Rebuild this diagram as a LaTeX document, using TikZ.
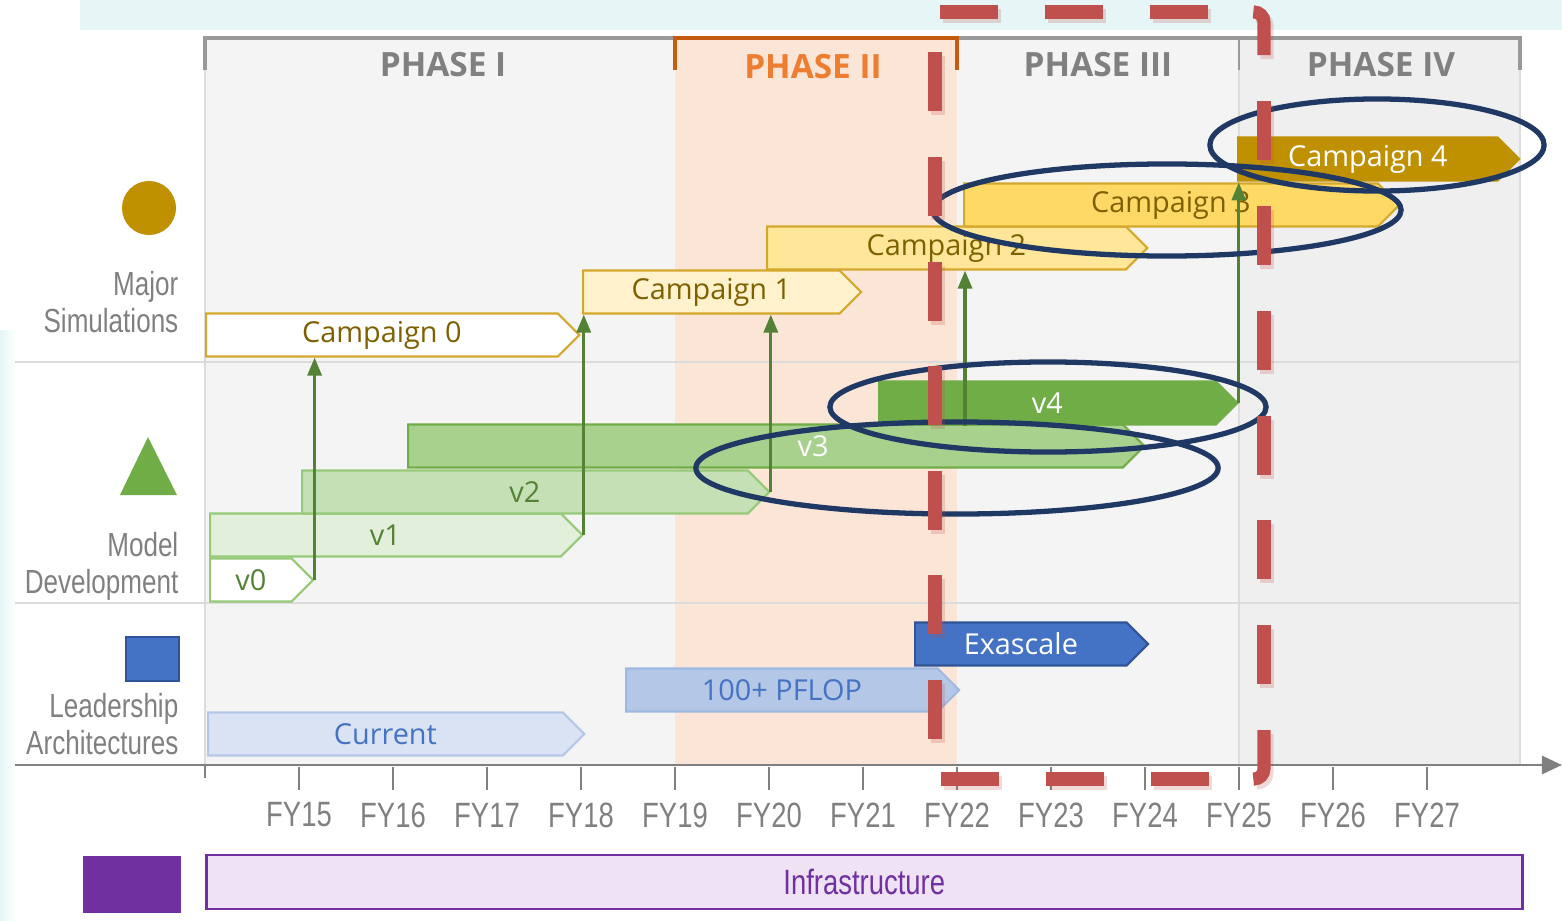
\documentclass[tikz,border=0pt]{standalone}
\usepackage{fontspec}
\setmainfont{Open Sans}
\newfontfamily\narrowfont[FakeStretch=0.78]{Liberation Sans}
\usetikzlibrary{shapes.symbols, arrows.meta}

\definecolor{bandcyan}{HTML}{E6F5F6}
\definecolor{panelgray}{HTML}{F4F4F4}
\definecolor{phasefourgray}{HTML}{EFEFEF}
\definecolor{peach}{HTML}{FBE5D6}
\definecolor{bracketorange}{HTML}{C55A11}
\definecolor{phaseorange}{HTML}{ED7D31}
\definecolor{labelgray}{HTML}{808080}
\definecolor{framegray}{HTML}{999999}
\definecolor{gridgray}{HTML}{DCDCDC}
\definecolor{gold}{HTML}{BF9000}
\definecolor{goldline}{HTML}{D4A82C}
\definecolor{goldtext}{HTML}{7F6000}
\definecolor{campone}{HTML}{FFF2CC}
\definecolor{camptwo}{HTML}{FFE699}
\definecolor{campthree}{HTML}{FFD966}
\definecolor{grnline}{HTML}{70AD47}
\definecolor{grnlight}{HTML}{95C977}
\definecolor{grndark}{HTML}{548235}
\definecolor{grnone}{HTML}{E2EFDA}
\definecolor{grntwo}{HTML}{C5E0B4}
\definecolor{grnthree}{HTML}{A9D18E}
\definecolor{grnfour}{HTML}{70AD47}
\definecolor{archblue}{HTML}{4472C4}
\definecolor{archline}{HTML}{2F5597}
\definecolor{archone}{HTML}{DAE3F3}
\definecolor{archtwo}{HTML}{B4C7E7}
\definecolor{archtwoline}{HTML}{9DB8E2}
\definecolor{infrapurple}{HTML}{7030A0}
\definecolor{infrafill}{HTML}{EFE2F5}
\definecolor{ringblue}{HTML}{1F3864}
\definecolor{dashred}{HTML}{C0504D}

\begin{document}
\begin{tikzpicture}[x=0.01cm, y=-0.01cm,
	bar/.style={signal, signal to=east, signal pointer angle=90, anchor=west,
		inner sep=0pt, minimum height=0.43cm, line width=0.6pt,
		font=\fontsize{8.2}{10}\selectfont},
	campaign/.style={bar, draw=goldline, text=goldtext},
	model/.style={bar, draw=grnline, text=grndark},
	arch/.style={bar, text=archblue},
	rowlabel/.style={anchor=east, align=right, inner sep=0pt, text=labelgray,
		font=\narrowfont\fontsize{9.5}{10.5}\selectfont},
	phaselabel/.style={text=labelgray, font=\bfseries\fontsize{9.5}{11}\selectfont},
	fylabel/.style={text=labelgray, font=\narrowfont\fontsize{10}{11}\selectfont},
	feeds/.style={grndark, line width=0.9pt, -{Triangle[width=1.4mm,length=1.8mm]}},
	ring/.style={ringblue, line width=1.5pt},
	reddash/.style={dashred, line width=3.7pt, rounded corners=0.1cm}]

	\useasboundingbox (0,0) rectangle (1562,921);

	% backdrop
	\fill[bandcyan] (80,0) rectangle (1562,30);
	\shade[left color=bandcyan, right color=white] (0,330) rectangle (16,921);

	% phases
	\fill[panelgray] (205,38) rectangle (675,765);
	\fill[peach] (675,38) rectangle (957,765);
	\fill[panelgray] (957,38) rectangle (1239,765);
	\fill[phasefourgray] (1239,38) rectangle (1520,765);
	\draw[gridgray, line width=0.5pt] (205,38) -- (205,765);
	\draw[gridgray, line width=0.5pt] (1239,38) -- (1239,765);
	\draw[gridgray, line width=0.5pt] (1520,38) -- (1520,765);
	\draw[gridgray, line width=0.7pt] (15,362) -- (1520,362);
	\draw[gridgray, line width=0.7pt] (15,603) -- (1520,603);
	\draw[framegray, line width=0.9pt] (205,70) -- (205,38) -- (1520,38) -- (1520,70);
	\draw[framegray, line width=0.6pt] (1239,38) -- (1239,70);
	\draw[bracketorange, line width=1.3pt] (675,70) -- (675,38) -- (957,38) -- (957,70);

	\node[phaselabel] (ph1) at (443,65) {PHASE I};
	\node[phaselabel, text=phaseorange] (ph2) at (813,67) {PHASE II};
	\node[phaselabel] (ph3) at (1098,65) {PHASE III};
	\node[phaselabel] (ph4) at (1381,65) {PHASE IV};

	% axis
	\draw[labelgray, line width=0.85pt, -{Triangle[width=1.8mm,length=2mm]}] (15,765) -- (1562,765);
	\draw[labelgray, line width=0.6pt] (205,765) -- (205,778);
	\foreach \yr [count=\i] in {15,...,27} {
		\draw[labelgray, line width=0.6pt] (205+94*\i,767) -- (205+94*\i,790);
		\node[fylabel] (fy\yr) at (205+94*\i,815) {FY\yr};
	}

	% row icons and labels
	\node[circle, fill=gold, inner sep=0pt, minimum size=0.54cm] (simicon) at (149,208) {};
	\fill[grnfour] (120,495) -- (148,437) -- (177,495) -- cycle;
	\node[draw=archline, fill=archblue, line width=0.6pt, inner sep=0pt, anchor=north west,
		minimum width=0.53cm, minimum height=0.44cm] (archicon) at (125,636) {};
	\node[fill=infrapurple, inner sep=0pt, anchor=north west,
		minimum width=0.98cm, minimum height=0.57cm] (infraicon) at (82,855) {};
	\node[rowlabel] (simlabel) at (179,302) {Major\\Simulations};
	\node[rowlabel] (modlabel) at (179,566) {Model\\Development};
	\node[rowlabel] (archlabel) at (179,724) {Leadership\\Architectures};

	% major simulations
	\node[campaign, fill=white, minimum width=3.73cm] (c0) at (205,335) {Campaign 0};
	\node[campaign, fill=campone, minimum width=2.78cm] (c1) at (582,292) {Campaign 1};
	\node[campaign, fill=camptwo, minimum width=3.80cm] (c2) at (766,248) {Campaign 2};
	\node[campaign, fill=campthree, minimum width=4.35cm] (c3) at (963,205) {Campaign 3};
	\node[campaign, fill=gold, draw=gold, text=white, minimum width=2.81cm] (c4) at (1237,159) {Campaign 4};

	% model development
	\node[model, draw=grnlight, fill=white, minimum width=1.03cm] (v0) at (209,580) {v0};
	\node[model, draw=grnlight, fill=grnone, minimum width=3.72cm] (v1) at (209,535) {v1};
	\node[model, draw=grnlight, fill=grntwo, minimum width=4.67cm] (v2) at (301,492) {v2};
	\node[model, fill=grnthree, text=white, minimum width=7.36cm] (v3) at (407,446) {\hspace{0.95cm}v3};
	\node[model, fill=grnfour, text=white, minimum width=3.58cm] (v4) at (878,403) {v4};

	% leadership architectures
	\node[arch, draw=archtwo, fill=archone, minimum width=3.76cm] (cur) at (207,734) {Current};
	\node[arch, draw=archtwoline, fill=archtwo, minimum width=3.33cm] (pflop) at (625,690) {100+ PFLOP};
	\node[arch, draw=archline, fill=archblue, text=white, minimum width=2.33cm] (exa) at (914,644) {Exascale};

	% infrastructure
	\node[draw=infrapurple, fill=infrafill, line width=0.8pt, anchor=west, inner sep=0pt,
		minimum width=13.15cm, minimum height=0.54cm, text=infrapurple,
		font=\narrowfont\fontsize{10}{11}\selectfont] (infra) at (205,882) {Infrastructure};

	% model versions feed campaigns
	\draw[feeds] (v0.east) -- (v0.east |- c0.south);
	\draw[feeds] (v1.east) -- (v1.east |- c1.south);
	\draw[feeds] (v2.east) -- (v2.east |- c1.south);
	\draw[feeds] ([xshift=0.87cm]v4.south west) -- ([xshift=0.87cm]v4.south west |- c2.south);
	\draw[feeds] (v4.east) -- (v4.east |- c3.north);

	% highlights
	\draw[ring] (1377,145) ellipse [x radius=1.67cm, y radius=0.46cm];
	\draw[ring] (1167,210) ellipse [x radius=2.34cm, y radius=0.46cm];
	\draw[ring] (1048,407) ellipse [x radius=2.18cm, y radius=0.45cm];
	\draw[ring] (957,468) ellipse [x radius=2.61cm, y radius=0.46cm];

	% red dashed frame, dash by dash
	\foreach \dx/\dy/\op in {3/4/0.22, 0/0/1} {
		\begin{scope}[shift={(\dx,\dy)}, opacity=\op]
			\foreach \x in {940,1045,1150} {
				\draw[reddash] (\x,12) -- (\x+58,12);
				\draw[reddash] (\x+1,779) -- (\x+59,779);
			}
			\foreach \y in {52,157,262,366,471,575,680}
				\draw[reddash] (935,\y) -- (935,\y+59);
			\foreach \y in {101,206,311,416,520,625}
				\draw[reddash] (1264,\y) -- (1264,\y+59);
			\draw[reddash] (1255,12) -- (1264,12) -- (1264,55);
			\draw[reddash] (1264,730) -- (1264,779) -- (1255,779);
		\end{scope}
	}
\end{tikzpicture}
\end{document}
